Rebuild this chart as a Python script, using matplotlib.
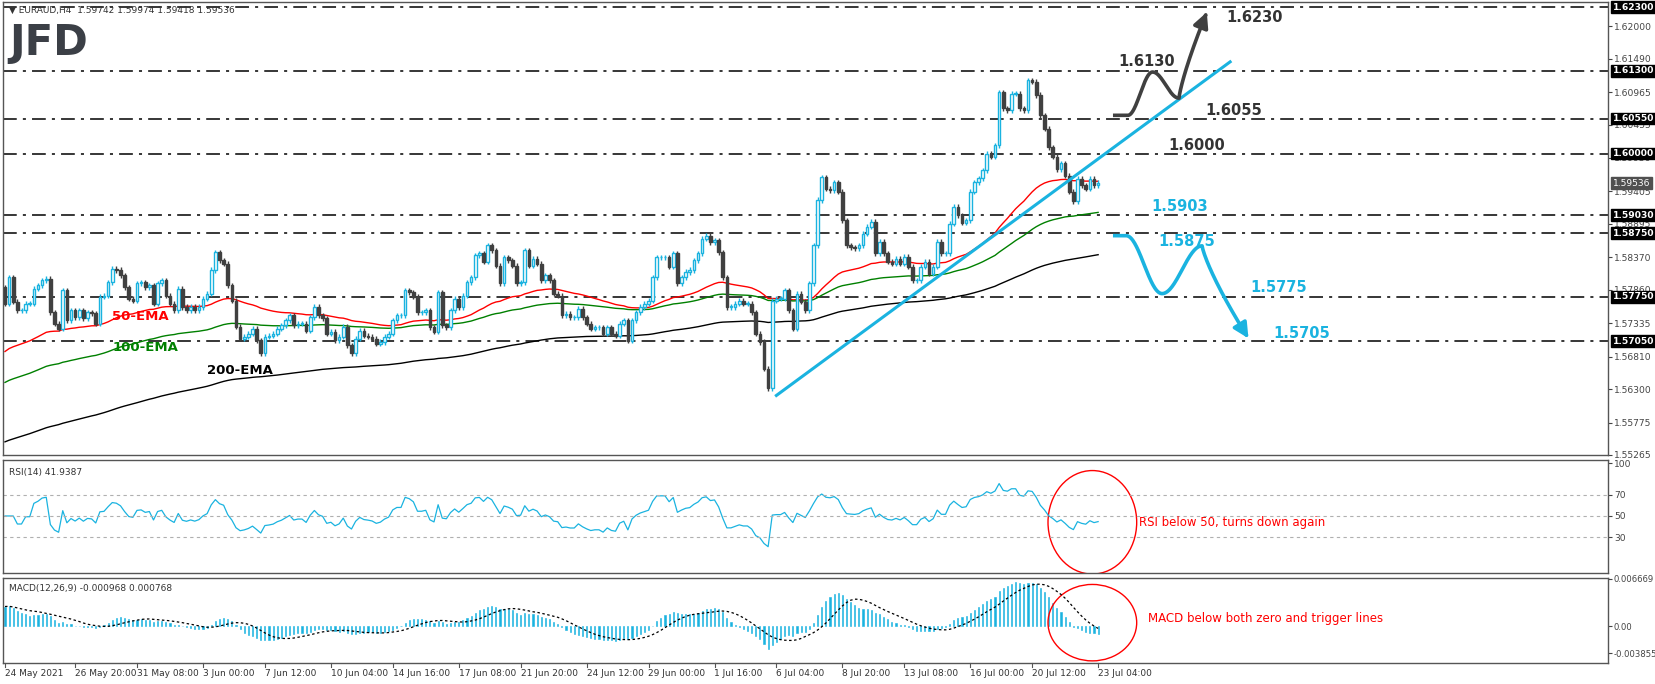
import numpy as np
import pandas as pd
import matplotlib
matplotlib.use("Agg")
import matplotlib.pyplot as plt
from matplotlib.transforms import blended_transform_factory as btf
from matplotlib.patches import Ellipse

# ---------------- data ----------------
closes = [
1.5764,1.5806,1.5767,1.5754,1.5754,1.5764,1.5764,1.5788,1.5793,1.5801,1.5803,1.5751,1.5733,1.5725,1.5785,1.5738,
1.5754,1.5743,1.5754,1.5741,1.5751,1.5749,1.5733,1.5775,1.5777,1.5798,1.5819,1.5817,1.5809,1.5790,1.5772,1.5769,
1.5796,1.5798,1.5790,1.5793,1.5764,1.5796,1.5801,1.5777,1.5764,1.5754,1.5788,1.5759,1.5754,1.5759,1.5754,1.5759,
1.5772,1.5780,1.5817,1.5845,1.5832,1.5827,1.5793,1.5769,1.5728,1.5709,1.5712,1.5717,1.5725,1.5707,1.5686,1.5712,
1.5714,1.5717,1.5725,1.5730,1.5738,1.5746,1.5730,1.5733,1.5733,1.5722,1.5743,1.5759,1.5746,1.5741,1.5717,1.5720,
1.5707,1.5712,1.5728,1.5699,1.5686,1.5709,
1.5722,1.5714,1.5712,1.5709,1.5701,1.5704,1.5712,1.5717,1.5738,1.5746,1.5746,1.5785,1.5782,1.5775,1.5751,1.5751,
1.5754,1.5727,1.5720,1.5782,1.5730,1.5727,1.5754,1.5772,1.5759,1.5777,1.5798,1.5806,1.5840,1.5843,1.5830,1.5856,
1.5848,1.5824,1.5796,1.5837,1.5832,1.5824,1.5796,1.5798,1.5848,1.5824,1.5835,1.5827,1.5801,1.5809,1.5801,1.5780,
1.5777,1.5746,1.5748,1.5743,1.5743,1.5756,1.5743,1.5733,1.5725,1.5727,1.5727,1.5717,1.5727,1.5717,1.5714,1.5733,
1.5738,1.5706,1.5738,1.5751,1.5759,1.5764,1.5769,1.5806,1.5837,1.5837,1.5837,1.5822,1.5843,1.5796,1.5806,1.5814,
1.5817,1.5832,1.5843,1.5866,1.5871,
1.5861,1.5864,1.5845,1.5806,1.5759,1.5759,1.5764,1.5769,1.5764,1.5764,1.5751,1.5717,1.5704,1.5662,1.5631,1.5769,
1.5772,1.5772,1.5785,1.5754,1.5725,1.5780,1.5767,1.5754,1.5796,1.5856,1.5927,1.5963,1.5945,1.5942,1.5955,1.5940,
1.5895,1.5856,1.5853,1.5851,1.5856,1.5874,1.5885,1.5893,1.5843,1.5861,1.5843,1.5830,1.5827,1.5835,1.5827,1.5838,
1.5822,1.5801,1.5801,1.5822,1.5830,1.5811,1.5822,1.5861,1.5843,1.5843,1.5890,1.5916,1.5903,1.5891,1.5895,1.5940,
1.5955,1.5961,1.5974,1.6000,1.5995,1.6013,1.6096,1.6071,1.6068,1.6094,1.6094,1.6071,1.6068,1.6115,1.6113,1.6092,
1.6060,1.6039,1.6010,
1.5995,1.5975,1.5985,1.5965,1.5940,1.5925,1.5960,1.5950,1.5945,1.5960,1.5950,1.5954]
first_open = 1.5790
ema_seeds = {50: 1.5686, 100: 1.5638, 200: 1.5545}
macd_seeds = (1.5775, 1.5744)   # ema12, ema26 seeds
levels = [1.6230, 1.6130, 1.6055, 1.6000, 1.5903, 1.5875, 1.5775, 1.5705]
axis_ticks = [1.62000, 1.61490, 1.60965, 1.60455, 1.59930, 1.59405, 1.58895, 1.58370,
              1.57860, 1.57335, 1.56810, 1.56300, 1.55775, 1.55265]
last_price = 1.59536
date_labels = ["24 May 2021", "26 May 20:00", "31 May 08:00", "3 Jun 00:00", "7 Jun 12:00",
               "10 Jun 04:00", "14 Jun 16:00", "17 Jun 08:00", "21 Jun 20:00", "24 Jun 12:00",
               "29 Jun 00:00", "1 Jul 16:00", "6 Jul 04:00", "8 Jul 20:00", "13 Jul 08:00",
               "16 Jul 00:00", "20 Jul 12:00", "23 Jul 04:00"]
trend_pts = ([187, 297], [1.5620, 1.6144])
up_path = ([268.6, 272.2, 278.2, 284.6, 291.6], [1.6060, 1.6060, 1.6128, 1.6087, 1.6226])
down_path = ([268.6, 271.8, 280.5, 290.2, 301.8], [1.5871, 1.5871, 1.5780, 1.5855, 1.5706])
level_labels = ["1.6230", "1.6130", "1.6055", "1.6000", "1.5903", "1.5875", "1.5775", "1.5705"]
label_bars = [296.0, 269.8, 291.0, 282.0, 278.0, 279.5, 302.0, 307.5]
label_prices = [1.6214, 1.6144, 1.6067, 1.6012, 1.5917, 1.5862, 1.5790, 1.5718]

# ---------------- derived ----------------
c = pd.Series(closes)
o = pd.Series([first_open] + closes[:-1])
n = len(c)
idx = np.arange(n)
days = pd.bdate_range("2021-05-24", periods=60)
times = [d + pd.Timedelta(hours=4 * h) for d in days for h in range(6)][:n]

def ema(series, span, seed):
    a = 2.0 / (span + 1)
    out = []
    v = seed
    for x in series:
        v = v + a * (x - v)
        out.append(v)
    return np.array(out)

emas = {k: ema(c, k, s) for k, s in ema_seeds.items()}
diff = c.diff().fillna(0)
up = diff.clip(lower=0).ewm(alpha=1/14, adjust=False).mean()
dn = (-diff.clip(upper=0)).ewm(alpha=1/14, adjust=False).mean()
rsi = 100 - 100 / (1 + up / dn.replace(0, np.nan))
rsi = rsi.bfill().fillna(50)
macd = ema(c, 12, macd_seeds[0]) - ema(c, 26, macd_seeds[1])
signal = pd.Series(macd).rolling(9, min_periods=1).mean().values

# ---------------- figure ----------------
W, H = 1655, 684
fig = plt.figure(figsize=(W / 100, H / 100), dpi=100)
fig.patch.set_facecolor("white")
L = 3 / W
Wd = (1608 - 3) / W
ax = fig.add_axes([L, 1 - 455 / H, Wd, 453 / H])
axr = fig.add_axes([L, 1 - 573 / H, Wd, 113 / H])
axm = fig.add_axes([L, 1 - 663 / H, Wd, 85 / H])
px = 4.125
xl = (-2 / px, -2 / px + 1605 / px)
BLUE = "#1ab3e0"
DARK = "#404040"
for a in (ax, axr, axm):
    a.set_xlim(*xl)
    for s in a.spines.values():
        s.set_color("#555555")
        s.set_linewidth(1)
    a.yaxis.tick_right()
    a.tick_params(axis="y", labelsize=6.6, colors="#444444", length=3, pad=1.5)
    a.tick_params(axis="x", length=0, labelbottom=False)
    a.set_xticks([])
axm.tick_params(axis="y", labelsize=6.1, pad=1)

# candles
bull = c >= o
hi = np.maximum(o, c) + 0.0004
lo = np.minimum(o, c) - 0.0004
ax.vlines(idx[bull], lo[bull], hi[bull], color=BLUE, lw=1, zorder=3)
ax.vlines(idx[~bull], lo[~bull], hi[~bull], color=DARK, lw=1, zorder=3)
body_lo = np.minimum(o, c)
body_h = np.maximum(np.abs(c - o), 0.00008)
ax.bar(idx[bull], body_h[bull], bottom=body_lo[bull], width=0.62, facecolor="white",
       edgecolor=BLUE, lw=1, zorder=4)
ax.bar(idx[~bull], body_h[~bull], bottom=body_lo[~bull], width=0.62, facecolor=DARK,
       edgecolor=DARK, lw=1, zorder=4)
ax.plot(idx, emas[50], color="red", lw=1, zorder=2)
ax.plot(idx, emas[100], color="green", lw=1, zorder=2)
ax.plot(idx, emas[200], color="black", lw=1, zorder=2)
ax.set_ylim(1.55265, 1.6238)
ax.set_yticks(axis_ticks)
ax.set_yticklabels([f"{v:.5f}" for v in axis_ticks])

for lv in levels:
    ax.axhline(lv, color="black", lw=1.1, ls=(0, (9, 4, 2, 4)), zorder=1)
tr = btf(ax.transAxes, ax.transData)
for lv in levels:
    ax.text(1.003, lv, f"{lv:.5f}", transform=tr, fontsize=6.6, color="white", fontweight="bold",
            va="center", ha="left", bbox=dict(boxstyle="square,pad=0.15", fc="black", ec="black"),
            zorder=10, clip_on=False)
ax.text(1.003, last_price, f"{last_price:.5f}", transform=tr, fontsize=6.6, color="white",
        va="center", ha="left", bbox=dict(boxstyle="square,pad=0.15", fc="#505050", ec="#505050"),
        zorder=10, clip_on=False)

ax.text(0.004, 0.992, "▼ EURAUD,H4  1.59742 1.59974 1.59418 1.59536", transform=ax.transAxes,
        fontsize=6.5, color="#333333", va="top", ha="left")
ax.text(0.004, 0.91, "JFD", transform=ax.transAxes, fontsize=30, fontweight="bold",
        color="#3b3f46", va="center", ha="left", family="DejaVu Sans")

ax.text(26, 1.5744, "50-EMA", color="red", fontsize=9.5, fontweight="bold", ha="left", va="center")
ax.text(26, 1.5696, "100-EMA", color="green", fontsize=9.5, fontweight="bold", ha="left", va="center")
ax.text(49, 1.5659, "200-EMA", color="black", fontsize=9.5, fontweight="bold", ha="left", va="center")

ax.plot(trend_pts[0], trend_pts[1], color=BLUE, lw=2.2, zorder=6, clip_on=False)

def smooth_path(xs, ys, k=60):
    xs = np.array(xs, float); ys = np.array(ys, float)
    outx, outy = [xs[0], xs[1]], [ys[0], ys[1]]
    for j in range(1, len(xs) - 1):
        t = np.linspace(0, 1, k)[1:]
        x0, x1 = xs[j], xs[j + 1]
        y0, y1 = ys[j], ys[j + 1]
        s = (1 - np.cos(np.pi * t)) / 2 if j < len(xs) - 2 else t ** 0.8
        outx += list(x0 + (x1 - x0) * t)
        outy += list(y0 + (y1 - y0) * s)
    return np.array(outx), np.array(outy)

for (px_, py_), col in ((up_path, DARK), (down_path, BLUE)):
    sx, sy = smooth_path(px_, py_)
    ax.plot(sx[:-6], sy[:-6], color=col, lw=2.6, zorder=7, solid_capstyle="butt")
    ax.annotate("", xy=(sx[-1], sy[-1]), xytext=(sx[-8], sy[-8]),
                arrowprops=dict(arrowstyle="-|>,head_width=0.45,head_length=0.9", color=col, lw=2.6),
                zorder=8)

for i, (t, xb, yp) in enumerate(zip(level_labels, label_bars, label_prices)):
    col = "#333333" if i < 4 else BLUE
    ax.text(xb, yp, t, color=col, fontsize=10.5, fontweight="bold", va="center", ha="left")

# RSI
axr.plot(idx, rsi, color=BLUE, lw=0.9)
for lv in (30, 50, 70):
    axr.axhline(lv, color="#b0b0b0", lw=0.8, ls=(0, (3, 3)))
axr.set_ylim(-4, 103)
axr.set_yticks([30, 50, 70, 100])
axr.text(0.004, 0.93, "RSI(14) 41.9387", transform=axr.transAxes, fontsize=6.5, color="#333333", va="top")
axr.add_patch(Ellipse((263.6, 44), 21.5, 98, fill=False, ec="red", lw=1))
axr.text(275, 44, "RSI below 50, turns down again", color="red", fontsize=8.5, va="center")

# MACD
axm.bar(idx, macd, width=0.3, color=BLUE, edgecolor=BLUE, lw=0.4)
axm.plot(idx, signal, color="black", lw=0.9, ls=(0, (2, 2)))
axm.set_ylim(-0.0052, 0.00681)
axm.set_yticks([0.006669, 0.0, -0.003855])
axm.set_yticklabels(["0.006669", "0.00", "-0.003855"])
axm.text(0.004, 0.93, "MACD(12,26,9) -0.000968 0.000768", transform=axm.transAxes, fontsize=6.5,
         color="#333333", va="top")
axm.add_patch(Ellipse((263.6, 0.0005), 21.5, 0.0108, fill=False, ec="red", lw=1))
axm.text(277, 0.0011, "MACD below both zero and trigger lines", color="red", fontsize=8.5, va="center")

# dates
tmap = {t: i for i, t in enumerate(times)}
for s in date_labels:
    parts = s.split()
    if len(parts) == 3 and ":" not in parts[2]:
        t = pd.Timestamp(f"{parts[0]} {parts[1]} {parts[2]}")
    else:
        t = pd.Timestamp(f"{parts[0]} {parts[1]} 2021 {parts[2]}")
    i = tmap.get(t)
    if i is None:
        continue
    axm.plot([i, i], [-0.0052, -0.0058], color="#555555", lw=0.8, clip_on=False)
    axm.text(i, -0.0061, s, fontsize=6.5, color="#333333", ha="left", va="top", clip_on=False)

fig.savefig("out.png", dpi=100, facecolor="white")
